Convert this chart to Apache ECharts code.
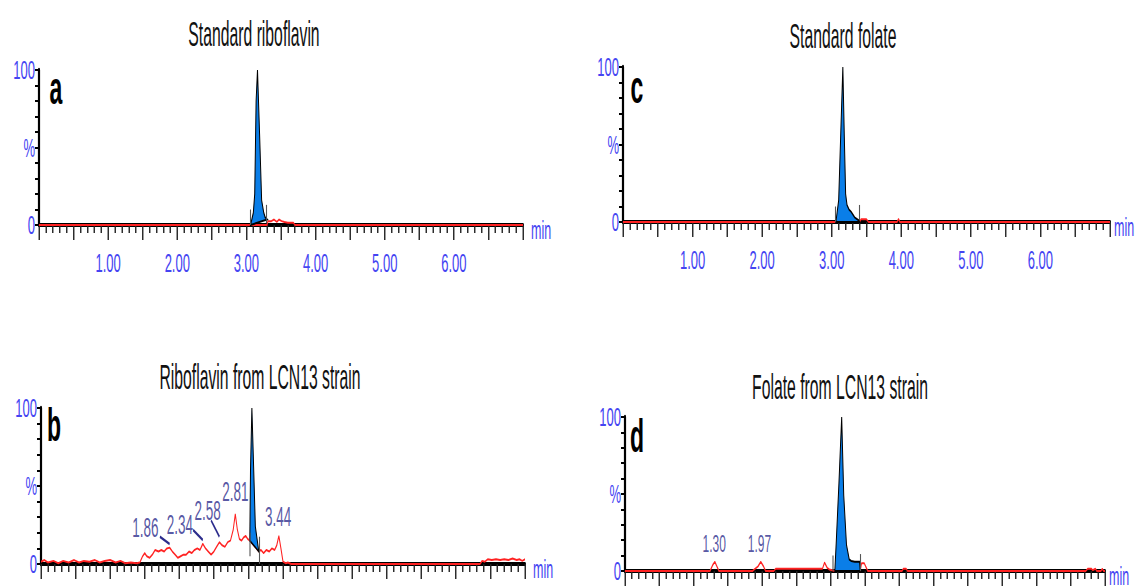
<!DOCTYPE html>
<html lang="en">
<head>
    <meta charset="UTF-8">
    <title>Chromatograms</title>
    <script type="text/javascript" src="https://cdn.jsdelivr.net/npm/echarts@6/dist/echarts.min.js"></script>
</head>
<body style="height: 586px; width: 1137px; margin: 0; overflow: hidden; background: #fff">
<!-- the figure is drawn twice as wide and squeezed, so the lettering comes out narrow like the scan -->
<div id="container" style="height: 586px; width: 2274px; transform: scaleX(0.5); transform-origin: 0 0"></div>
<script type="text/javascript">
    // panel titles and letters
    var panelTitles = ['Standard riboflavin', 'Riboflavin from LCN13 strain', 'Standard folate', 'Folate from LCN13 strain'];
    var panelLetters = ['a', 'b', 'c', 'd'];
    var xTickLabels = ['1.00', '2.00', '3.00', '4.00', '5.00', '6.00'];

    // red traces, [min, %]
    var traceA = [[0, 0], [3.30, 0], [3.31, 2.5], [3.36, 2.5], [3.40, 3.5], [3.44, 2], [3.47, 3.5], [3.51, 2.5],
        [3.55, 2], [3.60, 1.5], [3.68, 1.5], [3.70, 0], [7, 0]];
    var traceB = [[0.00, 1.5], [0.05, 2.5], [0.10, 1], [0.18, 2], [0.25, 0.5], [0.32, 2], [0.40, 1], [0.48, 2.5],
        [0.55, 1], [0.62, 2], [0.70, 1.5], [0.78, 2.5], [0.85, 1], [0.92, 2], [1.00, 2.5], [1.08, 1], [1.15, 2],
        [1.22, 0.5], [1.30, 1], [1.38, 0.5], [1.43, 1], [1.47, 5], [1.50, 7], [1.53, 5], [1.57, 4], [1.61, 6],
        [1.65, 9], [1.70, 8], [1.74, 9], [1.78, 8], [1.82, 10], [1.86, 10.5], [1.90, 8], [1.94, 6], [1.98, 4],
        [2.02, 5], [2.06, 6], [2.10, 6], [2.14, 8], [2.18, 7], [2.22, 9], [2.26, 10], [2.30, 9], [2.34, 13],
        [2.38, 10], [2.42, 8], [2.46, 6], [2.50, 8], [2.54, 11], [2.58, 14], [2.62, 12], [2.66, 11], [2.70, 14],
        [2.74, 15], [2.78, 22], [2.81, 32], [2.84, 22], [2.87, 16], [2.90, 15], [2.93, 17], [2.96, 18], [2.99, 16],
        [3.02, 15], [3.15, 8], [3.18, 9], [3.22, 7], [3.26, 9], [3.30, 8], [3.34, 10], [3.38, 9], [3.41, 12],
        [3.44, 18], [3.47, 10], [3.50, 1.5], [3.54, 0.5], [3.57, 1], [3.62, 0], [6.35, 0], [6.38, 2], [6.42, 1.5],
        [6.46, 3], [6.52, 2.5], [6.58, 3], [6.64, 2.5], [6.70, 3], [6.76, 2.5], [6.82, 3.5], [6.88, 2.5],
        [6.92, 3], [6.96, 2], [7.00, 3]];
    var traceC = [[0, 0], [3.40, 0], [3.42, 1.7], [3.50, 1.7], [3.53, 0], [3.94, 0], [3.96, 2], [3.98, 0], [7, 0]];
    var traceD = [[0, 0], [1.24, 0], [1.28, 4], [1.31, 6], [1.34, 3], [1.37, 0], [1.86, 0], [1.90, 1.5], [1.94, 3],
        [1.98, 6], [2.02, 3], [2.05, 0], [2.17, 0], [2.20, 1.5], [2.88, 1.5], [2.91, 5.5], [2.95, 2], [2.98, 1],
        [3.06, 0], [3.43, 0], [3.45, 5], [3.49, 5], [3.54, 0], [4.04, 0], [4.06, 1.5], [4.10, 1.5], [4.12, 0],
        [6.72, 0], [6.75, 1.5], [6.80, 1.5], [6.82, 0.5], [6.86, 1.5], [6.88, 0], [6.94, 0], [6.96, 1.5],
        [6.98, 0], [7, 0]];

    // integrated peak outlines (closed back along the baseline)
    var peakA = [[3.06, 0], [3.10, 8], [3.12, 20], [3.14, 80], [3.16, 100], [3.19, 59], [3.22, 16], [3.25, 8], [3.27, 5], [3.30, 3.6]];
    var peakB = [[3.02, 15], [3.03, 60], [3.05, 100], [3.07, 70], [3.10, 24], [3.15, 8]];
    var peakC = [[3.06, 0], [3.10, 14], [3.13, 57], [3.16, 100], [3.18, 57], [3.20, 18], [3.22, 11], [3.25, 8],
        [3.28, 6.5], [3.33, 3], [3.39, 1], [3.40, 0]];
    var peakD = [[3.06, 0], [3.08, 18], [3.12, 57], [3.16, 100], [3.19, 49], [3.23, 17], [3.27, 7.5], [3.30, 6.5],
        [3.35, 6], [3.42, 6], [3.43, 0]];

    // integration start / end markers [min, from %, to %]
    var marksA = [[3.06, 0, 10], [3.29, 1, 13]];
    var marksB = [[3.02, 5, 20], [3.16, 0, 17.5]];
    var marksC = [[3.05, 0, 10], [3.40, 1, 11]];
    var marksD = [[3.03, 0, 10], [3.43, 0, 11]];

    // retention time labels
    var rtNamesB = ['1.86', '2.34', '2.58', '2.81', '3.44'];
    var rtAtB = [[1.51, 23], [2.01, 25], [2.41, 34], [2.81, 46], [3.43, 30]];
    var rtLeadB = [[1.72, 17.5, 1.86, 12.8], [2.20, 21.8, 2.34, 15.4], [2.46, 28, 2.58, 17.5]];
    var rtNamesD = ['1.30', '1.97'];
    var rtAtD = [[1.30, 18], [1.96, 18]];

    var S = 0.5;                       // horizontal squeeze of the page
    function X(px) { return px / S; }  // screen x -> chart x

    var FONT = "'Liberation Sans', Arial, sans-serif";
    var AXIS_BLUE = '#4444f2';
    var RT_BLUE = '#2c2c8c';

    var grids = [
        {left: X(39), top: 70, width: X(484), height: 155, outerBoundsMode: 'none'},
        {left: X(41), top: 408, width: X(484), height: 156, outerBoundsMode: 'none'},
        {left: X(623), top: 67, width: X(487), height: 155, outerBoundsMode: 'none'},
        {left: X(625), top: 417, width: X(480), height: 154, outerBoundsMode: 'none'}
    ];
    var traces = [traceA, traceB, traceC, traceD];
    var peaks = [peakA, peakB, peakC, peakD];
    var marks = [marksA, marksB, marksC, marksD];
    // the lower panels' time labels fall below the edge of the figure
    var showTimeLabels = [true, false, true, false];
    // right-hand panels sit against the page edge
    var minGap = [8, 8, 4, 4];

    var dom = document.getElementById("container");
    var myChart = echarts.init(dom, null, {renderer: 'svg'});

    var xAxes = [], yAxes = [], series = [], graphics = [];

    for (var i = 0; i < 4; i++) {
        xAxes.push({
            type: 'value', gridIndex: i, min: 0, max: 7, interval: 0.5, offset: 3,
            axisLine: {show: true, lineStyle: {color: '#000', width: 4}},
            axisTick: {show: true, length: 15, lineStyle: {color: '#222', width: X(1.4)}},
            minorTick: {show: true, splitNumber: 5, length: 8, lineStyle: {color: '#222', width: X(1.4)}},
            splitLine: {show: false},
            axisLabel: {
                show: showTimeLabels[i],
                color: AXIS_BLUE, fontSize: 26, fontFamily: FONT, margin: 22,
                formatter: function (v) {
                    var k = Math.round(v);
                    return (Math.abs(v - k) < 1e-6 && k >= 1 && k <= 6) ? xTickLabels[k - 1] : '';
                }
            },
            name: 'min', nameLocation: 'end', nameGap: X(minGap[i]),
            nameTextStyle: {color: AXIS_BLUE, fontSize: 25, fontFamily: FONT, verticalAlign: 'top', lineHeight: 10}
        });
        yAxes.push({
            type: 'value', gridIndex: i, min: 0, max: 100, interval: 10,
            axisLine: {show: true, lineStyle: {color: '#000', width: X(2.2)}},
            axisTick: {show: true, length: X(4), lineStyle: {color: '#000', width: 2}},
            splitLine: {show: false},
            axisLabel: {
                color: AXIS_BLUE, fontSize: 26, fontFamily: FONT, margin: X(4),
                formatter: function (v) {
                    return v === 0 ? '0' : v === 100 ? '100' : v === 50 ? '%' : '';
                }
            }
        });

        series.push({
            type: 'line', xAxisIndex: i, yAxisIndex: i, data: traces[i], z: 2,
            symbol: 'none', animation: false, silent: true,
            lineStyle: {color: '#ff2222', width: 2}
        });

        (function (pts) {
            series.push({
                type: 'custom', xAxisIndex: i, yAxisIndex: i, data: pts, z: 4,
                encode: {x: 0, y: 1}, animation: false, silent: true,
                renderItem: function (params, api) {
                    if (params.dataIndex !== 0) return null;
                    return {
                        type: 'polygon',
                        shape: {points: pts.map(function (p) { return api.coord(p); })},
                        style: {fill: '#0a7ee8', stroke: '#000', lineWidth: 2, lineJoin: 'miter'}
                    };
                }
            });
        })(peaks[i]);

        series.push({
            type: 'line', xAxisIndex: i, yAxisIndex: i, data: [], z: 5, animation: false, silent: true,
            markLine: {
                silent: true, animation: false, symbol: ['none', 'none'], label: {show: false},
                lineStyle: {color: '#555', width: X(1.1), type: 'solid'},
                data: marks[i].map(function (m) {
                    return [{coord: [m[0], m[1]]}, {coord: [m[0], m[2]]}];
                })
            }
        });
    }

    // retention time labels
    series.push({
        type: 'scatter', xAxisIndex: 1, yAxisIndex: 1, symbolSize: 0, z: 6, animation: false, silent: true,
        data: rtAtB.map(function (p, k) { return {value: p, name: rtNamesB[k]}; }),
        label: {show: true, position: 'inside', formatter: '{b}', color: RT_BLUE, fontSize: 27, fontFamily: FONT},
        markLine: {
            silent: true, animation: false, symbol: ['none', 'none'], label: {show: false},
            lineStyle: {color: RT_BLUE, width: X(1.3), type: 'solid'},
            data: rtLeadB.map(function (l) { return [{coord: [l[0], l[1]]}, {coord: [l[2], l[3]]}]; })
        }
    });
    series.push({
        type: 'scatter', xAxisIndex: 3, yAxisIndex: 3, symbolSize: 0, z: 6, animation: false, silent: true,
        data: rtAtD.map(function (p, k) { return {value: p, name: rtNamesD[k]}; }),
        label: {show: true, position: 'inside', formatter: '{b}', color: RT_BLUE, fontSize: 24, fontFamily: FONT}
    });

    // titles (narrow face) and panel letters
    var titleAt = [[254, 34], [260, 377], [843, 36], [840, 387]];
    var letterAt = [[56, 88], [54, 425], [637, 87], [637, 436]];
    for (var t = 0; t < 4; t++) {
        graphics.push({
            type: 'text', x: X(titleAt[t][0]), y: titleAt[t][1], scaleX: 0.9,
            style: {
                text: panelTitles[t], fontSize: 35, fontFamily: FONT, fill: '#111',
                align: 'center', verticalAlign: 'middle'
            }
        });
        graphics.push({
            type: 'text', x: X(letterAt[t][0]), y: letterAt[t][1],
            style: {
                text: panelLetters[t], fontSize: 46, fontWeight: 'bold', fontFamily: FONT, fill: '#000',
                align: 'center', verticalAlign: 'middle'
            }
        });
    }

    var option = {
        animation: false,
        grid: grids,
        xAxis: xAxes,
        yAxis: yAxes,
        series: series,
        graphic: graphics
    };
    myChart.setOption(option, true);
</script>
</body>
</html>
